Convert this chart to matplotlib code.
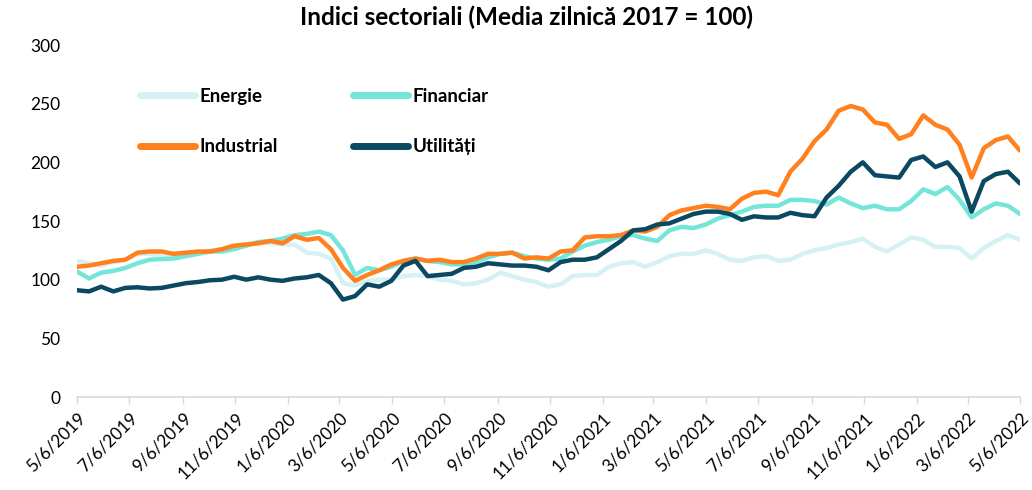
import matplotlib
matplotlib.use("Agg")
import matplotlib.pyplot as plt
import numpy as np
import pandas as pd

plt.rcParams['font.family'] = ['Lato', 'DejaVu Sans']

start_date = "2019-05-06"
end_date = "2022-05-06"
n_points = 79

energie = [116, 114, 112, 115, 117, 122, 122, 120, 120, 121, 123, 125, 126, 128, 130, 132, 131, 130, 130, 123,
           122, 118, 97, 95, 99, 100, 100, 103, 104, 103, 100, 99, 96, 97, 100, 106, 103, 100, 98, 94,
           96, 103, 104, 104, 111, 114, 115, 111, 115, 120, 122, 122, 125, 122, 117, 116, 119, 120, 116,
           117, 122, 125, 127, 130, 132, 135, 128, 124, 130, 136, 134, 128, 128, 127, 118, 127, 133, 138, 134]
financiar = [107, 101, 106, 107.5, 110, 114, 117, 117.5, 118, 120, 122, 124, 124, 126, 129, 132, 133, 135, 138, 139,
             141, 138, 125, 104, 110, 108, 111, 116, 118, 116, 115, 113, 113, 115, 119, 122, 123, 120, 118, 117,
             118, 124, 129, 132, 134, 137, 138, 135, 133, 142, 145, 144, 147, 152, 155, 158, 162, 163, 163,
             168, 168, 167, 164, 170, 165, 161, 163, 160, 160, 167, 177, 173, 179, 168, 153, 160, 165, 163, 156]
industrial = [111, 112, 114, 116, 117, 123, 124, 124, 122, 123, 124, 124, 126, 129, 130, 131, 133, 131, 137, 134,
              135.5, 126, 110, 99, 104, 108, 113, 116, 118, 116, 117, 115, 115, 118, 122, 122, 123, 118, 119, 118,
              124, 125, 136, 137, 137, 138, 142, 141, 145, 155, 159, 161, 163, 162, 160, 169, 174, 175, 172,
              192, 203, 218, 228, 244, 248, 245, 234, 232, 220, 224, 240, 232, 228, 215, 187, 212, 219, 222, 210]
utilitati = [91, 90, 94, 90, 93, 93.5, 92.5, 93, 95, 97, 98, 99.5, 100, 102.5, 100, 102, 100, 99, 101, 102,
             104, 97, 83, 86, 96, 94, 99, 112, 116, 103, 104, 105, 110, 111, 114, 113, 112, 112, 111, 108,
             115, 117, 117, 119, 126, 133, 142, 143, 147, 148, 152, 156, 158, 158, 156, 151, 154, 153, 153,
             157, 155, 154, 170, 180, 192, 200, 189, 188, 187, 202, 205, 196, 200, 188, 158, 184, 190, 192, 182]

series_names = ["Energie", "Financiar", "Industrial", "Utilități"]
series_colors = ["#d5f1f3", "#74e6d9", "#ff801c", "#0b4861"]

tick_dates = ["2019-05-06", "2019-07-06", "2019-09-06", "2019-11-06", "2020-01-06", "2020-03-06",
              "2020-05-06", "2020-07-06", "2020-09-06", "2020-11-06", "2021-01-06", "2021-03-06",
              "2021-05-06", "2021-07-06", "2021-09-06", "2021-11-06", "2022-01-06", "2022-03-06",
              "2022-05-06"]
tick_labels = ["5/6/2019", "7/6/2019", "9/6/2019", "11/6/2019", "1/6/2020", "3/6/2020",
               "5/6/2020", "7/6/2020", "9/6/2020", "11/6/2020", "1/6/2021", "3/6/2021",
               "5/6/2021", "7/6/2021", "9/6/2021", "11/6/2021", "1/6/2022", "3/6/2022",
               "5/6/2022"]
y_ticks = [0, 50, 100, 150, 200, 250, 300]

dates = pd.date_range(start_date, end_date, periods=n_points)

fig = plt.figure(figsize=(10.32, 4.9), dpi=100)
ax = fig.add_axes([77/1032, 1 - 397/490, (1020-77)/1032, (397-45)/490])

handles = []
for name, vals, col in zip(series_names, [energie, financiar, industrial, utilitati], series_colors):
    ln, = ax.plot(dates, vals, color=col, lw=3.2, label=name, solid_joinstyle='round', solid_capstyle='round')
    handles.append(ln)

ax.set_xlim(pd.Timestamp(start_date), pd.Timestamp(end_date))
ax.set_ylim(0, 300)
ax.set_yticks(y_ticks)
ax.set_yticklabels([str(v) for v in y_ticks], fontsize=12.5, color="#000000")
ax.tick_params(axis='y', length=0, pad=12)

tpos = [pd.Timestamp(d) for d in tick_dates]
ax.set_xticks(tpos)
ax.set_xticklabels(tick_labels, rotation=45, ha='right', rotation_mode='anchor', fontsize=12.5)
ax.tick_params(axis='x', length=5, color="#d9d9d9", width=1, pad=4)

for s in ['top', 'right', 'left']:
    ax.spines[s].set_visible(False)
ax.spines['bottom'].set_color("#d9d9d9")
ax.spines['bottom'].set_linewidth(1.2)

# column-major order so rows read: Energie, Financiar / Industrial, Utilități
order = [0, 2, 1, 3]
leg = ax.legend([handles[i] for i in order], [series_names[i] for i in order],
                ncol=2, loc='upper left', bbox_to_anchor=((140-77)/943, (397-88)/352),
                frameon=False, handlelength=2.95, handletextpad=0.22, columnspacing=4.0,
                labelspacing=1.78, borderpad=0, borderaxespad=0,
                prop={'weight': 'bold', 'size': 13.5})
for h in leg.get_lines():
    h.set_linewidth(5)
    h.set_solid_capstyle('round')

fig.text(527/1032, 1 - 17/490, "Indici sectoriali (Media zilnică 2017 = 100)", ha='center', va='center',
         fontsize=17.5, fontweight='bold')

fig.savefig("out.png", dpi=100)
